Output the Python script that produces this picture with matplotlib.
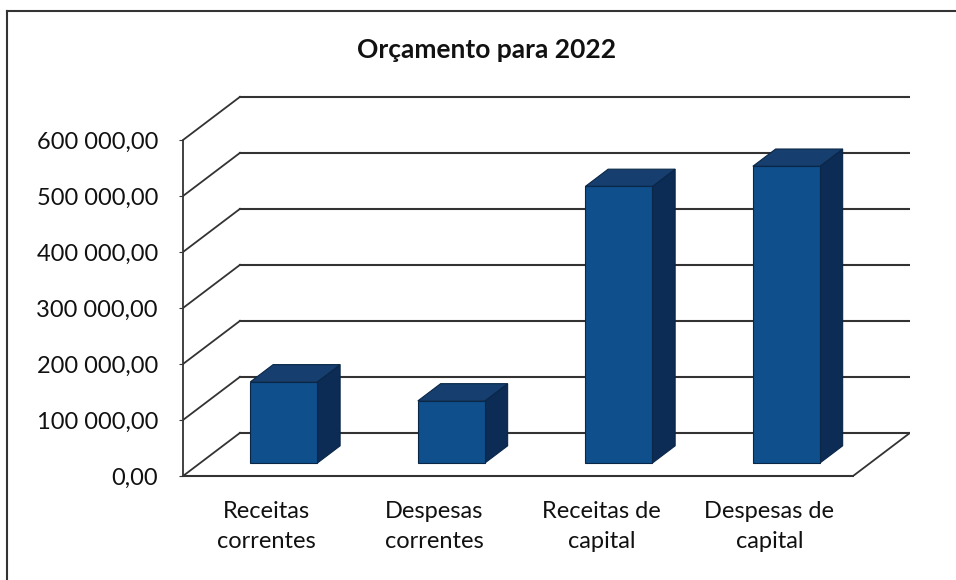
import matplotlib.pyplot as plt
from matplotlib.patches import Polygon
from matplotlib.lines import Line2D

# dados
categorias = ["Receitas\ncorrentes", "Despesas\ncorrentes",
              "Receitas de\ncapital", "Despesas de\ncapital"]
valores = [145000, 111000, 494000, 530000]
ticks_y = [0, 100000, 200000, 300000, 400000, 500000, 600000]
labels_y = [f"{t:,.2f}".replace(",", " ").replace(".", ",") for t in ticks_y]

# profundidade (projecao obliqua)
DX = 0.34
DY = 77000
z0, z1 = 0.30, 0.70
larg = 0.40

cor_frente = "#0f4f8c"
cor_topo = "#163e6e"
cor_lado = "#0c2b55"
cor_borda = "#0a2748"

plt.rcParams["font.family"] = ["Lato", "DejaVu Sans"]

fig = plt.figure(figsize=(9.56, 5.8), dpi=100)
ax = fig.add_axes([183 / 956, 104 / 580, 727 / 956, 380.8 / 580])
ax.set_xlim(0, 4 + DX)
ax.set_ylim(0, 680000)

# grelha: parede esquerda + parede do fundo
for t in ticks_y:
    ax.plot([0, DX], [t, t + DY], color="#333333", lw=1.3, zorder=1)
    ax.plot([DX, 4 + DX], [t + DY, t + DY], color="#333333", lw=1.5, zorder=1)
# chao
ax.plot([4, 4 + DX], [0, DY], color="#333333", lw=1.3, zorder=1)

# barras
for i, v in enumerate(valores):
    xa = i + 0.5 - larg / 2
    xb = i + 0.5 + larg / 2
    frente = [(xa + z0 * DX, z0 * DY), (xb + z0 * DX, z0 * DY),
              (xb + z0 * DX, z0 * DY + v), (xa + z0 * DX, z0 * DY + v)]
    lado = [(xb + z0 * DX, z0 * DY), (xb + z1 * DX, z1 * DY),
            (xb + z1 * DX, z1 * DY + v), (xb + z0 * DX, z0 * DY + v)]
    topo = [(xa + z0 * DX, z0 * DY + v), (xb + z0 * DX, z0 * DY + v),
            (xb + z1 * DX, z1 * DY + v), (xa + z1 * DX, z1 * DY + v)]
    ax.add_patch(Polygon(lado, closed=True, fc=cor_lado, ec=cor_borda, lw=0.8, zorder=3))
    ax.add_patch(Polygon(topo, closed=True, fc=cor_topo, ec=cor_borda, lw=0.8, zorder=3))
    ax.add_patch(Polygon(frente, closed=True, fc=cor_frente, ec=cor_borda, lw=0.8, zorder=4))

# eixos
for s in ["top", "right"]:
    ax.spines[s].set_visible(False)
ax.spines["left"].set_bounds(0, 600000)
ax.spines["bottom"].set_bounds(0, 4)
ax.spines["left"].set_color("#333333")
ax.spines["bottom"].set_color("#333333")
ax.spines["left"].set_linewidth(1.3)
ax.spines["bottom"].set_linewidth(1.5)

ax.set_yticks(ticks_y)
ax.set_yticklabels(labels_y, fontsize=17, color="#111111")
ax.tick_params(axis="y", length=3, pad=15, color="#333333")

ax.set_xticks([0.5, 1.5, 2.5, 3.5])
ax.set_xticklabels(categorias, fontsize=17, color="#111111", linespacing=1.55)
ax.tick_params(axis="x", length=0, pad=18)

fig.text(487 / 956, 1 - 50 / 580, "Orçamento para 2022", ha="center", va="center",
         fontsize=19, fontweight="bold", color="#111111")

# moldura
fig.add_artist(Line2D([7 / 956, 7 / 956], [0, 1 - 11 / 580], color="#333333", lw=1.5))
fig.add_artist(Line2D([7 / 956, 1], [1 - 11 / 580, 1 - 11 / 580], color="#333333", lw=1.5))

plt.savefig("out.png", dpi=100)
